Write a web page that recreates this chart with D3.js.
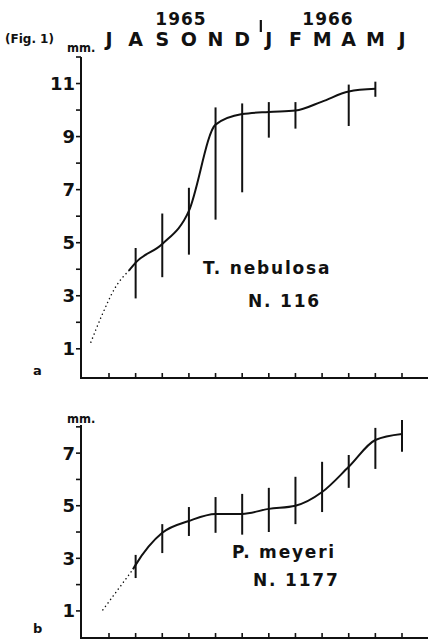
<!DOCTYPE html>
<html>
<head>
<meta charset="utf-8">
<script src="https://cdn.jsdelivr.net/npm/d3@7"></script>
<style>
  body { margin: 0; background: #fff; }
  svg { display: block; }
  text { font-family: "DejaVu Sans", sans-serif; font-weight: bold; fill: #111; }
</style>
</head>
<body>
<svg width="428" height="644"></svg>
<script>
// month labels, Jul 1965 .. Jun 1966
var months = ["J", "A", "S", "O", "N", "D", "J", "F", "M", "A", "M", "J"];

// panel a: T. nebulosa (month index, mean, low, high) -- March has no bar
var aMonth = [1, 2, 3, 4, 5, 6, 7, 8, 9, 10];
var aMean  = [4.25, 4.95, 6.2, 9.45, 9.85, 9.93, 9.98, 10.32, 10.7, 10.8];
var aLow   = [2.9, 3.7, 4.55, 5.87, 6.9, 8.96, 9.3, null, 9.4, 10.5];
var aHigh  = [4.8, 6.1, 7.07, 10.1, 10.25, 10.3, 10.3, null, 10.96, 11.07];
var aDotX  = [-0.68, -0.26, 0.23, 0.75];
var aDotY  = [1.25, 2.28, 3.3, 3.95];

// panel b: P. meyeri
var bMonth = [1, 2, 3, 4, 5, 6, 7, 8, 9, 10, 11];
var bMean  = [2.75, 3.97, 4.42, 4.69, 4.69, 4.88, 5.0, 5.52, 6.48, 7.5, 7.73];
var bLow   = [2.25, 3.2, 3.85, 3.97, 3.9, 4.0, 4.3, 4.76, 5.68, 6.4, 7.05];
var bHigh  = [3.13, 4.3, 4.95, 5.33, 5.45, 5.68, 6.1, 6.67, 6.93, 7.96, 8.26];
var bDotX  = [-0.23, 0.4, 0.9];
var bDotY  = [1.04, 1.9, 2.58];

var svg = d3.select("svg");

var xScale = d3.scaleLinear().domain([0, 11]).range([109, 402]);

// header
svg.append("text").attr("x", 5).attr("y", 43).attr("font-size", 12).text("(Fig. 1)");
svg.append("text").attr("x", 181).attr("y", 25).attr("font-size", 17)
  .attr("text-anchor", "middle").attr("letter-spacing", 1).text("1965");
svg.append("text").attr("x", 328).attr("y", 25).attr("font-size", 17)
  .attr("text-anchor", "middle").attr("letter-spacing", 1).text("1966");
svg.append("line")
  .attr("x1", xScale(5.7)).attr("x2", xScale(5.7))
  .attr("y1", 20).attr("y2", 32)
  .attr("stroke", "#111").attr("stroke-width", 2.2);
svg.selectAll(".month")
  .data(months)
  .enter().append("text")
  .attr("class", "month")
  .attr("x", function(d, i) { return xScale(i); })
  .attr("y", 46)
  .attr("font-size", 19)
  .attr("text-anchor", "middle")
  .text(function(d) { return d; });

function panel(opts) {
  var yScale = d3.scaleLinear().domain(opts.ydom).range(opts.yrange);
  var g = svg.append("g");
  var x0 = 81, x1 = 428, yAxis = opts.yrange[0];

  // y axis
  g.append("line").attr("x1", x0).attr("x2", x0)
    .attr("y1", opts.yrange[1]).attr("y2", yAxis)
    .attr("stroke", "#111").attr("stroke-width", 2);
  var yTicks = d3.range(1, opts.ymax + 1);
  g.selectAll(".yt").data(yTicks).enter().append("line")
    .attr("x1", x0 - 5).attr("x2", x0)
    .attr("y1", function(d) { return yScale(d); })
    .attr("y2", function(d) { return yScale(d); })
    .attr("stroke", "#111").attr("stroke-width", 1.6);
  g.selectAll(".yl").data(yTicks.filter(function(d) { return d % 2 == 1; }))
    .enter().append("text")
    .attr("x", x0 - 6).attr("y", function(d) { return yScale(d) + 6.5; })
    .attr("font-size", 18).attr("text-anchor", "end")
    .text(function(d) { return d; });
  g.append("text").attr("x", 67).attr("y", opts.mmY).attr("font-size", 11.5).text("mm.");

  // x axis
  g.append("line").attr("x1", x0 - 1).attr("x2", x1)
    .attr("y1", yAxis).attr("y2", yAxis)
    .attr("stroke", "#111").attr("stroke-width", 2);
  g.selectAll(".xt").data(d3.range(0, 12)).enter().append("line")
    .attr("x1", function(d) { return xScale(d); })
    .attr("x2", function(d) { return xScale(d); })
    .attr("y1", yAxis - 5).attr("y2", yAxis)
    .attr("stroke", "#111").attr("stroke-width", 1.6);
  g.append("text").attr("x", 33).attr("y", opts.letterY).attr("font-size", 13).text(opts.letter);

  // dotted start
  var dots = opts.dotX.map(function(d, i) { return [d, opts.dotY[i]]; });
  var line = d3.line()
    .x(function(d) { return xScale(d[0]); })
    .y(function(d) { return yScale(d[1]); })
    .curve(d3.curveMonotoneX);
  g.append("path").attr("d", line(dots))
    .attr("fill", "none").attr("stroke", "#111").attr("stroke-width", 1.5)
    .attr("stroke-linecap", "round").attr("stroke-dasharray", "0.1,4.2");

  // solid curve
  var pts = [dots[dots.length - 1]].concat(opts.month.map(function(d, i) { return [d, opts.mean[i]]; }));
  g.append("path").attr("d", line(pts))
    .attr("fill", "none").attr("stroke", "#111").attr("stroke-width", 2);

  // error bars
  var bars = opts.month.map(function(d, i) { return { m: d, lo: opts.low[i], hi: opts.high[i] }; })
    .filter(function(d) { return d.lo != null; });
  g.selectAll(".bar").data(bars).enter().append("line")
    .attr("x1", function(d) { return xScale(d.m); })
    .attr("x2", function(d) { return xScale(d.m); })
    .attr("y1", function(d) { return yScale(d.hi); })
    .attr("y2", function(d) { return yScale(d.lo); })
    .attr("stroke", "#111").attr("stroke-width", 2);

  // species labels
  g.append("text").attr("x", opts.nameX).attr("y", opts.nameY).attr("font-size", 17)
    .attr("letter-spacing", 1.8).text(opts.name);
  g.append("text").attr("x", opts.numX).attr("y", opts.numY).attr("font-size", 17)
    .attr("letter-spacing", 1.8).text(opts.num);
}

panel({
  ydom: [-0.1, 12], yrange: [378, 57], ymax: 12, mmY: 52,
  letter: "a", letterY: 375,
  month: aMonth, mean: aMean, low: aLow, high: aHigh, dotX: aDotX, dotY: aDotY,
  name: "T. nebulosa", nameX: 203, nameY: 274, num: "N. 116", numX: 248, numY: 307
});

panel({
  ydom: [-0.03, 8.07], yrange: [638, 425], ymax: 8, mmY: 423,
  letter: "b", letterY: 633,
  month: bMonth, mean: bMean, low: bLow, high: bHigh, dotX: bDotX, dotY: bDotY,
  name: "P. meyeri", nameX: 232, nameY: 558, num: "N. 1177", numX: 253, numY: 586
});
</script>
</body>
</html>
